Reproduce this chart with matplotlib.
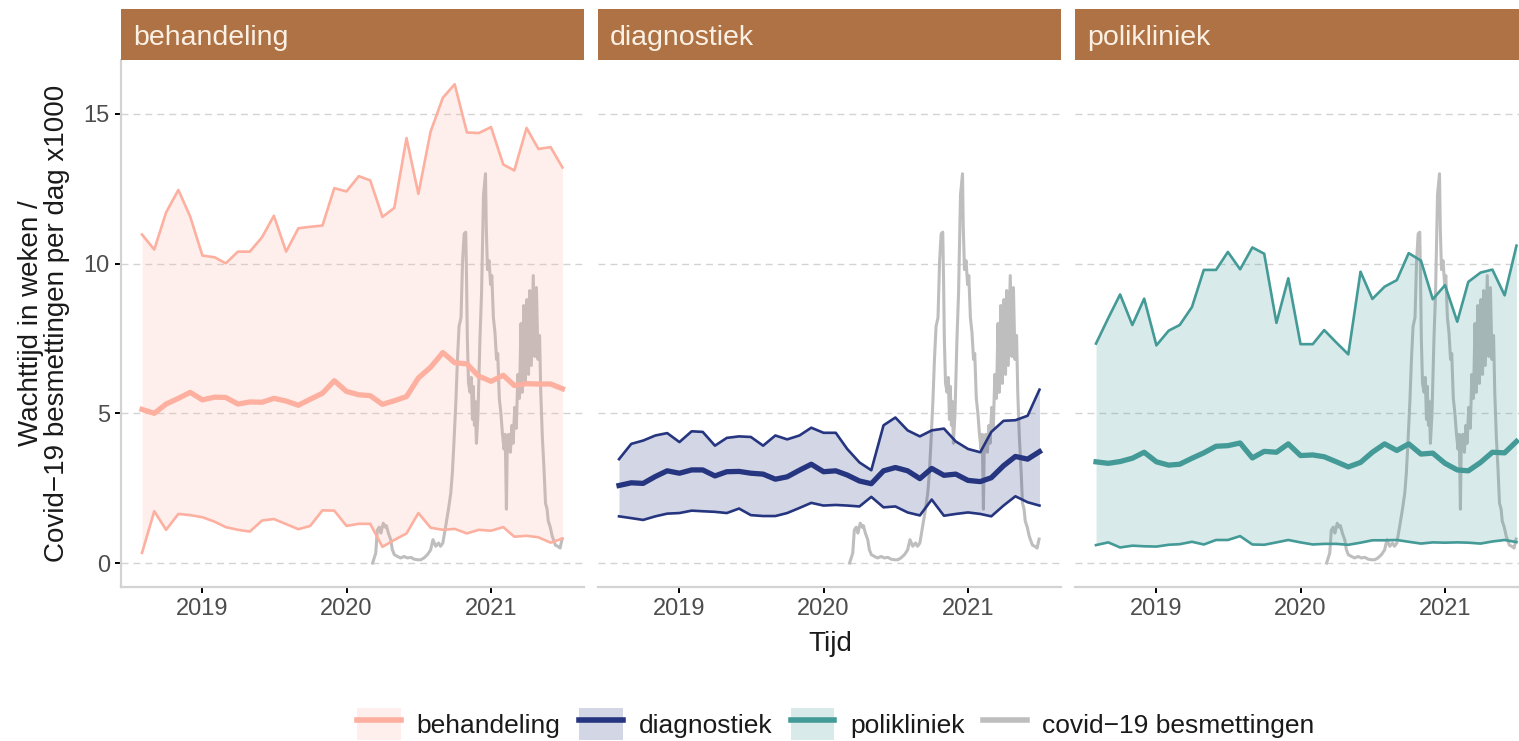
import matplotlib
matplotlib.use("Agg")
import matplotlib.pyplot as plt
import matplotlib.dates as mdates
import pandas as pd
from matplotlib.patches import Patch
from matplotlib.lines import Line2D
from matplotlib.legend_handler import HandlerTuple

plt.rcParams['font.family'] = ['Liberation Sans', 'DejaVu Sans']

# Wachttijden per maand (weken), aug 2018 - jul 2021
maanden = pd.date_range('2018-08-01', periods=36, freq='MS')

behandeling_hoog = [10.97, 10.47, 11.71, 12.46, 11.57, 10.27, 10.21, 10.01, 10.40, 10.40, 10.88, 11.60,
                    10.40, 11.18, 11.23, 11.27, 12.52, 12.41, 12.92, 12.78, 11.56, 11.86, 14.19, 12.33,
                    14.41, 15.54, 15.99, 14.38, 14.36, 14.56, 13.31, 13.11, 14.53, 13.83, 13.89, 13.21]
behandeling_med = [5.13, 5.00, 5.31, 5.50, 5.70, 5.45, 5.54, 5.53, 5.31, 5.38, 5.37, 5.50,
                   5.41, 5.27, 5.47, 5.67, 6.09, 5.73, 5.62, 5.59, 5.30, 5.42, 5.56, 6.18,
                   6.54, 7.03, 6.69, 6.65, 6.24, 6.07, 6.27, 5.93, 5.99, 5.98, 5.98, 5.82]
behandeling_laag = [0.34, 1.73, 1.11, 1.64, 1.60, 1.53, 1.38, 1.20, 1.11, 1.05, 1.42, 1.47,
                    1.30, 1.13, 1.24, 1.76, 1.75, 1.24, 1.31, 1.31, 0.54, 0.77, 0.99, 1.67,
                    1.18, 1.11, 1.14, 0.99, 1.11, 1.08, 1.20, 0.88, 0.91, 0.86, 0.68, 0.82]

diagnostiek_hoog = [3.47, 3.98, 4.09, 4.26, 4.34, 4.04, 4.40, 4.38, 3.92, 4.18, 4.23, 4.21,
                    3.92, 4.26, 4.13, 4.26, 4.52, 4.35, 4.35, 3.81, 3.36, 3.10, 4.60, 4.86,
                    4.43, 4.23, 4.43, 4.49, 4.06, 3.81, 3.70, 4.38, 4.75, 4.77, 4.92, 5.79]
diagnostiek_med = [2.59, 2.68, 2.66, 2.89, 3.08, 3.00, 3.11, 3.11, 2.91, 3.05, 3.06, 3.00,
                   2.97, 2.80, 2.88, 3.10, 3.30, 3.05, 3.08, 2.94, 2.74, 2.65, 3.08, 3.19,
                   3.08, 2.82, 3.16, 2.93, 2.97, 2.76, 2.72, 2.85, 3.25, 3.56, 3.47, 3.72]
diagnostiek_laag = [1.56, 1.50, 1.44, 1.56, 1.65, 1.67, 1.75, 1.73, 1.71, 1.67, 1.82, 1.60,
                    1.57, 1.57, 1.67, 1.84, 2.01, 1.92, 1.94, 1.92, 1.89, 2.21, 1.86, 1.89,
                    1.69, 1.59, 2.12, 1.58, 1.64, 1.69, 1.64, 1.56, 1.92, 2.23, 2.03, 1.92]

polikliniek_hoog = [7.33, 8.18, 8.97, 7.95, 8.83, 7.27, 7.76, 7.95, 8.55, 9.79, 9.79, 10.39,
                    9.81, 10.54, 10.33, 8.02, 9.51, 7.31, 7.31, 7.78, 7.36, 6.97, 9.73, 8.82,
                    9.23, 9.45, 10.35, 10.10, 8.81, 9.28, 8.06, 9.39, 9.70, 9.80, 8.94, 10.60]
polikliniek_med = [3.38, 3.33, 3.39, 3.50, 3.70, 3.38, 3.27, 3.30, 3.50, 3.68, 3.90, 3.92,
                   4.01, 3.51, 3.73, 3.70, 3.98, 3.59, 3.61, 3.55, 3.38, 3.21, 3.36, 3.70,
                   3.98, 3.76, 3.98, 3.64, 3.67, 3.33, 3.11, 3.08, 3.36, 3.70, 3.68, 4.06]
polikliniek_laag = [0.60, 0.69, 0.52, 0.58, 0.56, 0.55, 0.61, 0.63, 0.71, 0.62, 0.77, 0.77,
                    0.90, 0.62, 0.61, 0.69, 0.77, 0.69, 0.62, 0.64, 0.64, 0.61, 0.68, 0.76,
                    0.76, 0.77, 0.71, 0.65, 0.69, 0.68, 0.69, 0.68, 0.65, 0.72, 0.77, 0.70]

# Covid-19 besmettingen per dag (x1000), dagen sinds 1 jan 2020
covid_dag = [66, 74, 78, 83, 87, 93, 98, 101, 106, 112, 116, 121, 129, 137, 146, 154, 163, 171,
             180, 188, 196, 205, 213, 219, 226, 233, 238, 244, 251, 258, 264, 268, 272, 277,
             281, 285, 290, 294, 298, 302, 304, 306, 309, 313, 316, 319, 321, 324, 326, 329,
             333, 338, 342, 347, 352, 354, 357, 361, 365, 368, 372, 376, 380, 383, 387, 391,
             395, 399, 402, 405, 407, 411, 415, 419, 422, 426, 430, 434, 438, 442, 445, 449,
             453, 457, 461, 464, 468, 473, 477, 481, 485, 489, 492, 496, 500, 504, 508, 511,
             516, 521, 529, 536, 541, 546]
covid_waarde = [0.0, 0.33, 1.1, 1.2, 1.0, 1.33, 1.2, 1.25, 1.0, 0.78, 0.45, 0.28, 0.22, 0.17,
                0.22, 0.17, 0.19, 0.13, 0.11, 0.11, 0.17, 0.28, 0.44, 0.78, 0.56, 0.67, 0.56,
                0.67, 1.22, 1.78, 2.33, 3.0, 4.0, 5.4, 6.8, 7.9, 8.2, 10.1, 11.0, 11.05, 9.5,
                7.5, 6.0, 5.7, 6.2, 4.8, 5.9, 4.6, 5.4, 4.0, 5.0, 7.5, 9.0, 12.3, 13.0, 11.2,
                9.8, 10.1, 9.3, 9.6, 8.2, 7.7, 6.8, 7.0, 5.5, 5.0, 4.3, 3.8, 4.3, 1.8, 3.8,
                4.3, 3.7, 4.6, 4.0, 5.2, 4.5, 6.3, 5.5, 8.0, 5.7, 8.6, 6.0, 8.8, 6.3, 9.1,
                6.6, 9.6, 6.9, 9.2, 6.8, 7.6, 5.7, 4.2, 3.2, 2.0, 1.8, 1.4, 1.2, 0.9, 0.6,
                0.55, 0.5, 0.8]
covid_datum = pd.Timestamp('2020-01-01') + pd.to_timedelta(covid_dag, unit='D')

categorieen = ['behandeling', 'diagnostiek', 'polikliniek']
kleuren = ['#FDB0A0', '#26357F', '#439A97']
hoog = [behandeling_hoog, diagnostiek_hoog, polikliniek_hoog]
med = [behandeling_med, diagnostiek_med, polikliniek_med]
laag = [behandeling_laag, diagnostiek_laag, polikliniek_laag]
covid_kleur = '#BEBEBE'
strip_kleur = '#AE7244'
grijs = '#D3D3D3'

# x-bereik zoals ggplot: 5% extra aan beide kanten
x0 = mdates.date2num(min(maanden[0], covid_datum[0]))
x1 = mdates.date2num(max(maanden[-1], covid_datum[-1]))
marge = 0.05 * (x1 - x0)

W, H = 1519, 741
fig = plt.figure(figsize=(W / 100, H / 100), dpi=100)

pan_left = [121, 598, 1075]
pan_w = 462.5
pan_top, pan_bot = 60, 587
strip_top = 9

for i, cat in enumerate(categorieen):
    ax = fig.add_axes([pan_left[i] / W, 1 - pan_bot / H, pan_w / W, (pan_bot - pan_top) / H])
    ax.plot(covid_datum, covid_waarde, color=covid_kleur, lw=2.2, zorder=1, solid_joinstyle='round')
    ax.fill_between(maanden, laag[i], hoog[i], color=kleuren[i], alpha=0.2, lw=0, zorder=2)
    ax.plot(maanden, hoog[i], color=kleuren[i], lw=1.9, zorder=3)
    ax.plot(maanden, laag[i], color=kleuren[i], lw=1.9, zorder=3)
    ax.plot(maanden, med[i], color=kleuren[i], lw=3.8, zorder=3)

    ax.set_xlim(x0 - marge, x1 + marge)
    ax.set_ylim(-0.8, 16.8)
    ax.set_yticks([0, 5, 10, 15])
    ax.set_xticks([pd.Timestamp(f'{j}-01-01') for j in (2019, 2020, 2021)])
    ax.set_xticklabels(['2019', '2020', '2021'])
    ax.grid(axis='y', color=grijs, lw=1.0, linestyle=(0, (5, 3.6)))
    ax.set_axisbelow(True)
    for s in ['top', 'right']:
        ax.spines[s].set_visible(False)
    ax.spines['bottom'].set_color(grijs)
    ax.spines['bottom'].set_linewidth(1.6)
    ax.tick_params(axis='x', length=4, width=1.4, color='black', labelsize=17,
                   labelcolor='#4D4D4D', pad=4)
    if i == 0:
        ax.spines['left'].set_color(grijs)
        ax.spines['left'].set_linewidth(1.6)
        ax.tick_params(axis='y', length=4, width=1.4, color='black', labelsize=17,
                       labelcolor='#4D4D4D', pad=4)
    else:
        ax.spines['left'].set_visible(False)
        ax.tick_params(axis='y', left=False, labelleft=False)

    # facet-strip
    sax = fig.add_axes([pan_left[i] / W, 1 - pan_top / H, pan_w / W, (pan_top - strip_top) / H])
    sax.set_facecolor(strip_kleur)
    sax.set_xticks([])
    sax.set_yticks([])
    for s in sax.spines.values():
        s.set_visible(False)
    sax.text(12 / pan_w, 0.30, cat, color='#FBF0E4', fontsize=20.5, ha='left', va='baseline',
             transform=sax.transAxes)

fig.text(44 / W, 1 - 323.5 / H, 'Wachttijd in weken /\nCovid\u221219 besmettingen per dag x1000',
         rotation=90, ha='center', va='center', fontsize=20, linespacing=1.0, color='#1A1A1A',
         multialignment='center')
fig.text(830 / W, 1 - 644 / H, 'Tijd', ha='center', va='center', fontsize=20, color='#1A1A1A')

handles = []
for kl in kleuren:
    handles.append((Patch(facecolor=kl, alpha=0.2, edgecolor='none'),
                    Line2D([], [], color=kl, lw=4)))
handles.append((Patch(facecolor='white', edgecolor='none'),
                Line2D([], [], color=covid_kleur, lw=4)))
labels = categorieen + ['covid\u221219 besmettingen']
fig.legend(handles, labels, handler_map={tuple: HandlerTuple(ndivide=1, pad=0)},
           loc='center', bbox_to_anchor=(836 / W, 1 - 724 / H), ncol=4, frameon=False,
           fontsize=19, handlelength=1.65, handleheight=1.5, handletextpad=0.6,
           columnspacing=0.7, labelcolor='#1A1A1A')

fig.savefig('out.png', dpi=100)
